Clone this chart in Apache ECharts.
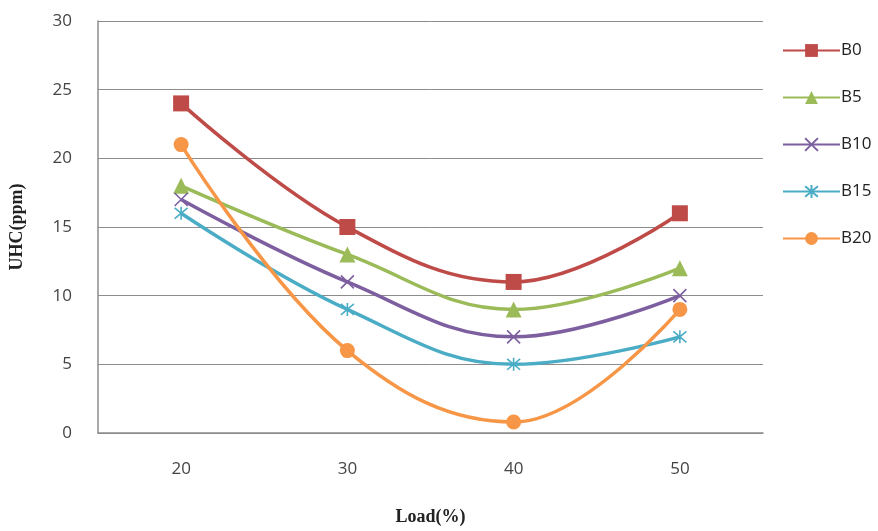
<!DOCTYPE html>
<html><head><meta charset="utf-8">
<script src="https://cdn.jsdelivr.net/npm/echarts@6/dist/echarts.min.js"></script>
<style>html,body{margin:0;padding:0;background:#fff}#c{width:878px;height:531px}</style>
</head><body><div id="c"></div>
<script>
const categories = ['20', '30', '40', '50'];
const B0 = [24, 15, 11, 16];
const B5 = [18, 13, 9, 12];
const B10 = [17, 11, 7, 10];
const B15 = [16, 9, 5, 7];
const B20 = [21, 6, 0.8, 9];
const seriesNames = ['B0', 'B5', 'B10', 'B15', 'B20'];
const seriesData = [B0, B5, B10, B15, B20];
const colors = ['#BE4B48', '#9BBB59', '#7D5FA0', '#4BACC6', '#F79646'];
const symbols = [
  'rect', 'triangle',
  'path://M0,0L10,10M10,0L0,10',
  'path://M0,0L10,10M10,0L0,10M5,-1L5,11',
  'circle'
];
const symbolSizes = [16, 16, 13, 13, 15];
const stroked = [false, false, true, true, false];

const chart = echarts.init(document.getElementById('c'), null, {renderer: 'canvas'});
const series = seriesNames.map((n, i) => ({
  name: n, type: 'line', data: seriesData[i], smooth: 0.4,
  symbol: symbols[i], symbolSize: symbolSizes[i], showAllSymbol: true,
  lineStyle: {color: colors[i], width: 3.5},
  itemStyle: stroked[i] ? {color: 'transparent', borderColor: colors[i], borderWidth: 1.6}
                        : {color: colors[i], borderWidth: 0},
  emphasis: {disabled: true}
}));
chart.setOption({
  animation: false,
  color: colors,
  grid: {left: 96, right: 115, top: 21, bottom: 88},
  legend: {
    orient: 'vertical', left: 777, top: 37, itemGap: 30,
    itemWidth: 57, itemHeight: 16,
    textStyle: {fontFamily: 'Open Sans', fontSize: 17, color: '#222', padding: [0,0,0,-4]},
    data: seriesNames
  },
  xAxis: {
    type: 'category', data: categories, boundaryGap: true,
    name: 'Load(%)', nameLocation: 'middle', nameGap: 75,
    nameTextStyle: {fontFamily: 'Liberation Serif', fontWeight: 'bold', fontSize: 18, color: '#222'},
    axisLine: {lineStyle: {color: '#8c8c8c', width: 1.5}},
    axisTick: {show: false},
    axisLabel: {fontFamily: 'Open Sans', fontSize: 17, color: '#444', margin: 28},
    splitLine: {show: false}
  },
  yAxis: {
    type: 'value', min: 0, max: 30, interval: 5,
    name: 'UHC(ppm)', nameLocation: 'middle', nameGap: 72,
    nameTextStyle: {fontFamily: 'Liberation Serif', fontWeight: 'bold', fontSize: 18, color: '#222'},
    axisLine: {show: true, lineStyle: {color: '#8c8c8c', width: 1.5}},
    axisTick: {show: false},
    axisLabel: {fontFamily: 'Open Sans', fontSize: 17, color: '#444', margin: 26},
    splitLine: {lineStyle: {color: '#8c8c8c', width: 1}}
  },
  series: series
});
</script></body></html>
